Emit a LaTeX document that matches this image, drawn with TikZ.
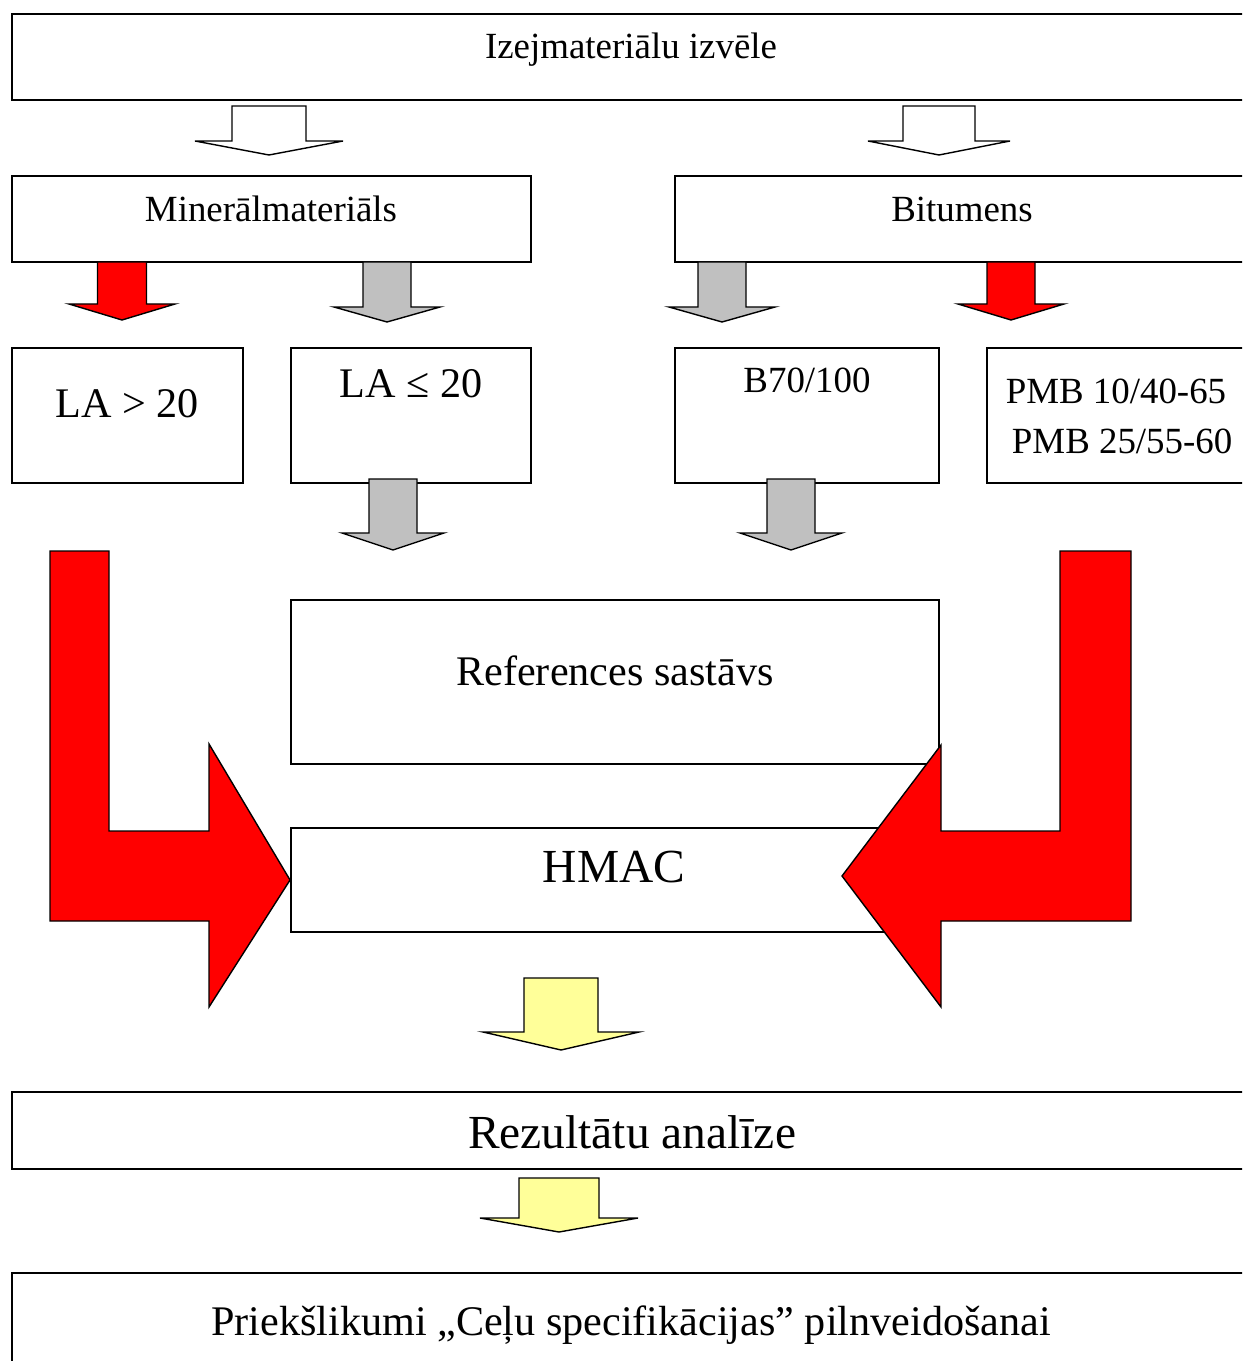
\documentclass[tikz,border=0pt]{standalone}
\usepackage{fontspec}
\setmainfont{Liberation Serif}
\usetikzlibrary{fit}

\newcommand{\blockdown}[7]{%
  \draw[block arrow, fill=#1] ({#2-#4},#3) -- ({#2-#4},#5) -- ({#2-#6},#5) -- (#2,#7)
    -- ({#2+#6},#5) -- ({#2+#4},#5) -- ({#2+#4},#3) -- cycle;}

\begin{document}
\begin{tikzpicture}[x=0.02cm,y=-0.02cm]
    \tikzset{box/.style={draw,line width=1.1pt,inner sep=0pt},
             block arrow/.style={draw,line width=0.8pt,line join=miter},
             txt/.style={anchor=base,inner sep=0pt,font=\fontsize{#1}{#1}\selectfont}}
    \definecolor{arrowgray}{HTML}{C0C0C0}
    \definecolor{arrowyellow}{HTML}{FFFF99}

    \useasboundingbox (0,0) rectangle (1242,1361);
    \clip (0,0) rectangle (1242,1361);

    % boxes
    \node [box, fit={(12,14) (1260,100)}] (izej) {};
    \node [box, fit={(12,176) (531,262)}] (miner) {};
    \node [box, fit={(675,176) (1260,262)}] (bitum) {};
    \node [box, fit={(12,348) (243,483)}] (la-gt) {};
    \node [box, fit={(291,348) (531,483)}] (la-le) {};
    \node [box, fit={(675,348) (939,483)}] (b70) {};
    \node [box, fit={(987,348) (1260,483)}] (pmb) {};
    \node [box, fit={(291,600) (939,764)}] (refs) {};
    \node [box, fit={(291,828) (939,932)}] (hmac) {};
    \node [box, fit={(12,1092) (1260,1169)}] (rezult) {};
    \node [box, fit={(12,1273) (1260,1380)}] (priek) {};

    % texts
    \node [txt=21pt] (izej-text) at (631,59) {Izejmateriālu izvēle};
    \node [txt=21pt] (miner-text) at (271,222) {Minerālmateriāls};
    \node [txt=21pt] (bitum-text) at (962,222) {Bitumens};
    \node [txt=24pt] (la-gt-text) at (127,418) {LA > 20};
    \node [txt=24pt] (la-le-text) at (411,398) {LA ≤ 20};
    \node [txt=21pt] (b70-text) at (807,393) {B70/100};
    \node [anchor=base,inner sep=0pt,align=center,font=\fontsize{21pt}{28.3pt}\selectfont]
        (pmb-text) at (1116,453) {PMB 10/40-65\\ \hspace*{7pt}PMB 25/55-60};
    \node [txt=24pt] (refs-text) at (615,685) {References sastāvs};
    \node [txt=27pt] (hmac-text) at (614,882) {HMAC};
    \node [txt=27pt] (rezult-text) at (632,1148) {Rezultātu analīze};
    \node [txt=24pt] (priek-text) at (631,1335) {Priekšlikumi „Ceļu specifikācijas” pilnveidošanai};

    % block arrows
    \blockdown{white}{269}{106}{37}{141}{74}{155}
    \blockdown{white}{939}{106}{36}{141}{71}{155}
    \blockdown{red}{122}{262}{24.5}{304}{53}{320}
    \blockdown{arrowgray}{387}{262}{24}{307}{53}{322}
    \blockdown{arrowgray}{722}{262}{24}{307}{53}{322}
    \blockdown{red}{1011}{262}{24}{304}{53}{320}
    \blockdown{arrowgray}{393}{479}{24}{533}{51}{550}
    \blockdown{arrowgray}{791}{479}{24}{533}{51}{550}
    \blockdown{arrowyellow}{561}{978}{37}{1032}{78}{1050}
    \blockdown{arrowyellow}{559}{1178}{40}{1218}{79}{1232}

    % bent arrows into HMAC
    \draw [block arrow, fill=red] (50,551) -- (109,551) -- (109,831) -- (209,831) -- (209,744)
        -- (hmac.west) -- (209,1007) -- (209,921) -- (50,921) -- cycle;
    \draw [block arrow, fill=red] (1131,551) -- (1060,551) -- (1060,831) -- (941,831) -- (941,745)
        -- (842,876) -- (941,1007) -- (941,921) -- (1131,921) -- cycle;
\end{tikzpicture}
\end{document}
